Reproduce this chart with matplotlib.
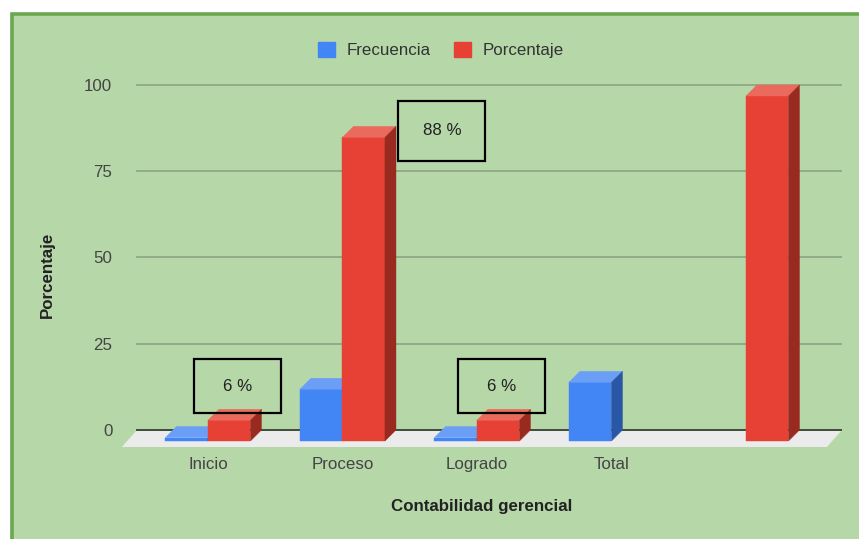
import matplotlib.pyplot as plt
from matplotlib.patches import Polygon, Rectangle, Patch

plt.rcParams['font.family'] = ['Liberation Sans', 'DejaVu Sans']

# datos
categorias = ['Inicio', 'Proceso', 'Logrado', 'Total', '']
frecuencia = [1, 15, 1, 17, None]
porcentaje = [6, 88, 6, None, 100]
yticks = [0, 25, 50, 75, 100]

# etiquetas de porcentaje (cajas): categoria, centro x, centro y, alto
cajas = [(0, 0.223, 12.75, 15.6), (1, 1.74, 86.8, 17.4), (2, 2.186, 12.75, 15.6)]

fondo = '#b6d7a8'
borde = '#6aa84f'
azul = ('#4285f4', '#6b9ff6', '#2a56a6')
rojo = ('#e64134', '#eb6a5e', '#982a20')

ancho = 0.316   # ancho de barra (unidades de categoria)
dx = 0.082      # profundidad 3D en x
dy = 3.19       # profundidad 3D en y
fs = 12.2


def barra3d(ax, x0, v, colores):
    frente, arriba, lado = colores
    b = -dy
    t = v - dy
    ax.add_patch(Polygon([(x0, b), (x0 + ancho, b), (x0 + ancho, t), (x0, t)],
                         closed=True, facecolor=frente, edgecolor=frente, lw=0.3, zorder=5))
    ax.add_patch(Polygon([(x0, t), (x0 + ancho, t), (x0 + ancho + dx, v), (x0 + dx, v)],
                         closed=True, facecolor=arriba, edgecolor=arriba, lw=0.3, zorder=5))
    ax.add_patch(Polygon([(x0 + ancho, b), (x0 + ancho + dx, 0), (x0 + ancho + dx, v), (x0 + ancho, t)],
                         closed=True, facecolor=lado, edgecolor=lado, lw=0.3, zorder=5))


fig = plt.figure(figsize=(8.59, 5.39), dpi=100)
fig.patch.set_facecolor('white')
fig.patches.append(Rectangle((12 / 859, -0.1), 1.1, (539 - 13.5) / 539 + 0.1,
                             transform=fig.transFigure, facecolor=fondo,
                             edgecolor=borde, lw=2.6, zorder=-5))

ax = fig.add_axes([122 / 859, 92 / 539, 720 / 859, 367 / 539])
ax.set_facecolor('none')
for s in ax.spines.values():
    s.set_visible(False)

x_izq = -0.528
x_der = 4.714
ax.set_xlim(-0.639, 4.714)
ax.set_ylim(-4.93, 101.45)

# rejilla en el plano posterior
for yv in yticks[1:]:
    ax.plot([x_izq, x_der], [yv, yv], color='#8ea884', lw=1.3, zorder=1)

# piso
piso_dy = 4.93
piso_dx = 0.112
ax.add_patch(Polygon([(x_izq, 0), (x_der, 0), (x_der - piso_dx, -piso_dy), (x_izq - piso_dx, -piso_dy)],
                     closed=True, facecolor='#ebebeb', edgecolor='none', zorder=2))
ax.plot([x_izq, x_der], [0, 0], color='#3e4a3b', lw=1.4, zorder=3)

for i in range(len(categorias)):
    if frecuencia[i] is not None:
        barra3d(ax, i - ancho, frecuencia[i], azul)
    if porcentaje[i] is not None:
        barra3d(ax, i, porcentaje[i], rojo)

# cajas con porcentaje
for i, cx, cy, h in cajas:
    w = 0.647
    ax.add_patch(Rectangle((cx - w / 2, cy - h / 2), w, h, facecolor='none',
                           edgecolor='black', lw=1.6, zorder=6))
    ax.text(cx, cy, f'{porcentaje[i]} %', ha='center', va='center',
            fontsize=fs, color='#222222', zorder=7)

ax.set_yticks(yticks)
ax.set_xticks(range(len(categorias)))
ax.set_xticklabels(categorias)
ax.tick_params(axis='y', length=0, pad=7, labelsize=fs, labelcolor='#444444')
ax.tick_params(axis='x', length=0, pad=7.5, labelsize=fs, labelcolor='#444444')

ax.set_ylabel('Porcentaje', fontsize=fs, fontweight='bold', color='#222222',
              ha='center', va='center')
ax.yaxis.set_label_coords(-0.103, 0.469)
ax.set_xlabel('Contabilidad gerencial', fontsize=fs, fontweight='bold', color='#222222',
              ha='center', va='center')
ax.xaxis.set_label_coords(0.499, -0.163)

manijas = [Patch(facecolor=azul[0], edgecolor=azul[0]),
           Patch(facecolor=rojo[0], edgecolor=rojo[0])]
fig.legend(manijas, ['Frecuencia', 'Porcentaje'], loc='center',
           bbox_to_anchor=(441 / 859, 1 - 50 / 539), ncol=2, frameon=False,
           fontsize=fs, handlelength=1.0, handleheight=1.0, handletextpad=0.65,
           columnspacing=1.4, labelcolor='#333333')

fig.savefig('out.png', dpi=100)
